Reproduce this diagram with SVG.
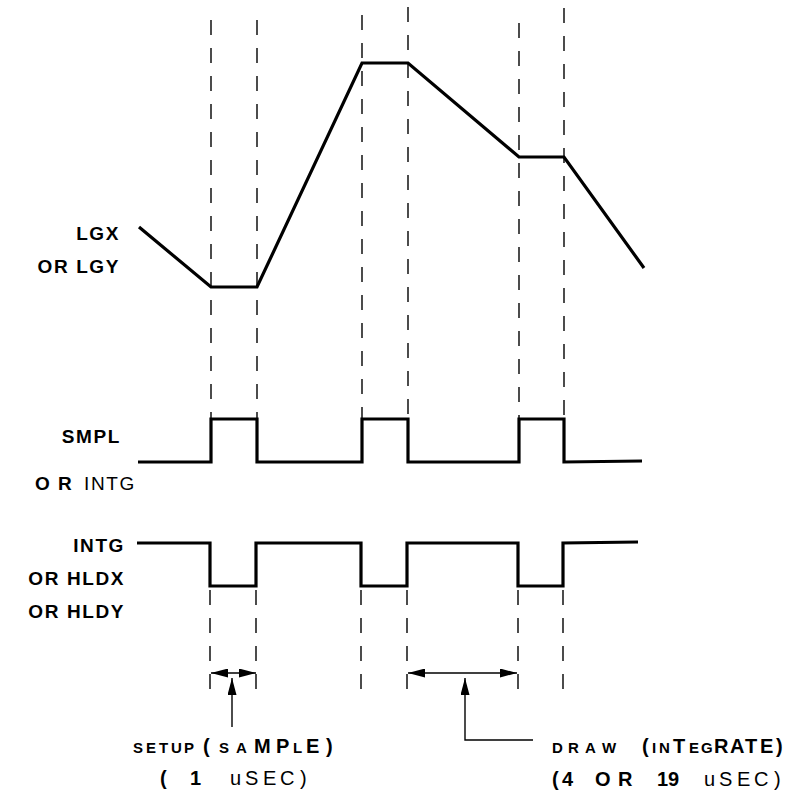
<svg xmlns="http://www.w3.org/2000/svg" width="812" height="796" viewBox="0 0 812 796">
<style>
.wave{fill:none;stroke:#000;stroke-width:3.2;stroke-linejoin:miter;stroke-linecap:butt}
.dash{fill:none;stroke:#000;stroke-width:1.4;stroke-dasharray:15 13}
.thin{fill:none;stroke:#000;stroke-width:1.4}
.lbl{font-family:"Liberation Sans",Arial,sans-serif;font-weight:bold;font-size:19px;letter-spacing:1.6px;fill:#000}
.big{font-family:"Liberation Sans",Arial,sans-serif;font-weight:bold;font-size:20px;fill:#000}
.sm{font-size:15px}
.nrm{font-weight:normal}
</style>
<defs>
<marker id="ah" viewBox="0 0 17 9" refX="17" refY="4.5" markerWidth="17" markerHeight="9" markerUnits="userSpaceOnUse" orient="auto-start-reverse">
<path d="M0,0 L17,4.5 L0,9 z" fill="#000"/>
</marker>
</defs>

<g id="gridlines">
<line class="dash" x1="211" y1="20" x2="211" y2="419"/>
<line class="dash" x1="257" y1="20" x2="257" y2="419"/>
<line class="dash" x1="362" y1="15" x2="362" y2="419"/>
<line class="dash" x1="408" y1="7" x2="408" y2="419"/>
<line class="dash" x1="519" y1="23" x2="519" y2="419"/>
<line class="dash" x1="564" y1="8" x2="564" y2="419"/>
<line class="dash" x1="210" y1="590" x2="210" y2="692"/>
<line class="dash" x1="256" y1="590" x2="256" y2="692"/>
<line class="dash" x1="361" y1="590" x2="361" y2="692"/>
<line class="dash" x1="407" y1="590" x2="407" y2="692"/>
<line class="dash" x1="518" y1="590" x2="518" y2="692"/>
<line class="dash" x1="563" y1="590" x2="563" y2="692"/>
</g>

<g id="lgx">
<polyline class="wave" points="139,227 211,287 257,287 362,63 408,63 519,157 564,157 644,268"/>
<text class="lbl" x="120" y="240" text-anchor="end">LGX</text>
<text class="lbl" x="120" y="273" text-anchor="end">OR LGY</text>
</g>

<g id="smpl">
<polyline class="wave" points="138,462 211,462 211,419 257,419 257,462 362,462 362,419 408,419 408,462 519,462 519,419 564,419 564,462 642,461"/>
<text class="lbl" x="121" y="443" text-anchor="end">SMPL</text>
<text class="lbl" y="490"><tspan x="35">O</tspan><tspan x="58">R</tspan><tspan x="84" class="nrm">INTG</tspan></text>
</g>

<g id="intg">
<polyline class="wave" points="137,543 210,543 210,586 256,586 256,543 361,543 361,586 407,586 407,543 518,543 518,586 563,586 563,543 638,542"/>
<text class="lbl" x="125" y="552" text-anchor="end">INTG</text>
<text class="lbl" x="125" y="585" text-anchor="end">OR HLDX</text>
<text class="lbl" x="125" y="618" text-anchor="end">OR HLDY</text>
</g>

<g id="connectors">
<line class="thin" x1="211" y1="673" x2="256" y2="673" marker-start="url(#ah)" marker-end="url(#ah)"/>
<line class="thin" x1="232" y1="727" x2="232" y2="678" marker-end="url(#ah)"/>
<line class="thin" x1="408" y1="673" x2="517" y2="673" marker-start="url(#ah)" marker-end="url(#ah)"/>
<polyline class="thin" points="533,740 465,740 465,678" marker-end="url(#ah)"/>
</g>

<g id="setup-label">
<text class="big" y="753"><tspan class="sm" x="133 146 159 171 184">SETUP</tspan><tspan x="203">(</tspan><tspan class="sm" x="219 236">SA</tspan><tspan x="254 276">MP</tspan><tspan class="sm" x="293">L</tspan><tspan x="306">E</tspan><tspan x="326">)</tspan></text>
<text class="big" y="785"><tspan x="160">(</tspan><tspan x="190">1</tspan><tspan class="nrm" x="230 245 263 280 300">uSEC)</tspan></text>
</g>

<g id="draw-label">
<text class="big" y="753"><tspan class="sm" x="552 568 585 602">DRAW</tspan><tspan x="642">(</tspan><tspan class="sm" x="652 659">IN</tspan><tspan x="673">T</tspan><tspan class="sm" x="689 701">EG</tspan><tspan x="714 730 745 760 776">RATE)</tspan></text>
<text class="big" y="786"><tspan x="552 562">(4</tspan><tspan x="595 618">OR</tspan><tspan x="657 668">19</tspan><tspan class="nrm" x="704 719 737 754 774">uSEC)</tspan></text>
</g>
</svg>
